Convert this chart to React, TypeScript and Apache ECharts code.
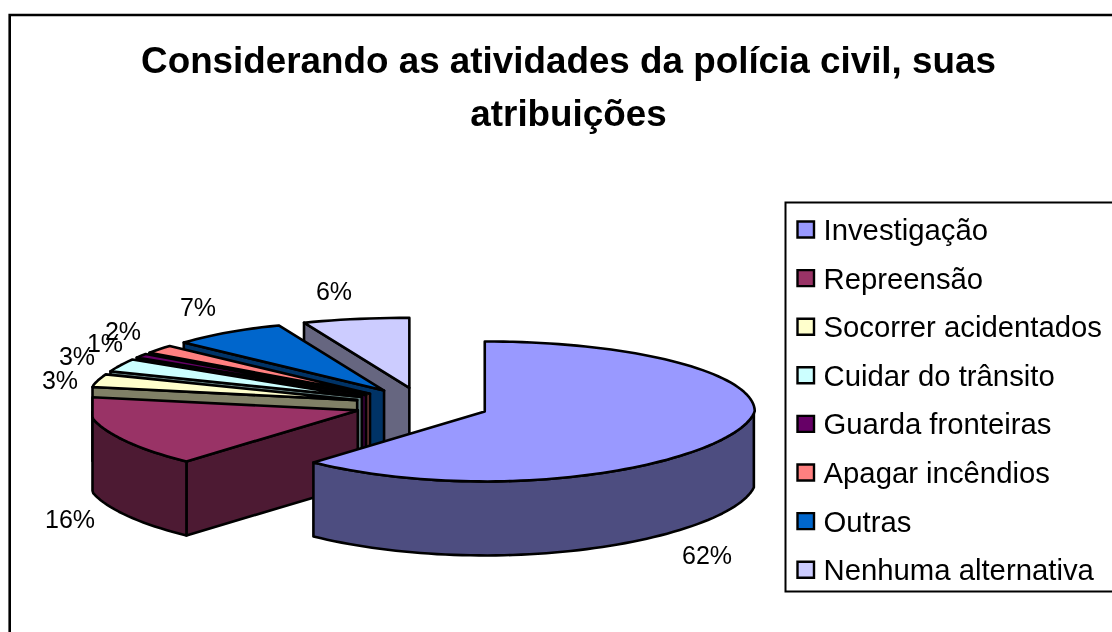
import React, { useEffect, useRef } from "react";
import * as echarts from "echarts";

const titleLines = ["Considerando as atividades da polícia civil, suas", "atribuições"];
const categories = ["Investigação", "Repreensão", "Socorrer acidentados", "Cuidar do trânsito", "Guarda fronteiras", "Apagar incêndios", "Outras", "Nenhuma alternativa"];
const percents = [62, 16, 3, 3, 1, 2, 7, 6];
const topColors = ["#9999FF", "#993366", "#FFFFCC", "#CCFFFF", "#660066", "#FF8080", "#0066CC", "#CCCCFF"];
const sideColors = ["#4D4D80", "#4D1A33", "#808066", "#668080", "#330033", "#804040", "#003366", "#666680"];
const labelCenters = [[707, 555], [70, 519], [60, 380], [77, 356], [105, 343], [123, 331], [198, 307], [334, 291]];

const CX = 422, CY = 405, RX = 270, RY = 70, DEPTH = 74, EXPLODE = 67.5, LEFT_LIMIT = 92.5;
const total = percents.reduce((a, b) => a + b, 0);

function rimPoint(ax: number, ay: number, deg: number, dy = 0): number[] {
  const t = (deg * Math.PI) / 180;
  const s = Math.sin(t);
  const c = Math.cos(t);
  const squeeze = 1 - 0.1 * Math.max(0, -c);
  const widen = s < 0 ? 1 + 0.08 * Math.pow(Math.max(0, c), 4) : 1;
  return [Math.max(LEFT_LIMIT, ax + RX * s * squeeze * widen), ay - RY * c + dy];
}

function renderSlice(_: any, api: any) {
  const i = api.value(0) as number;
  let before = 0;
  for (let k = 0; k < i; k++) before += percents[k];
  const a = (before / total) * 360;
  const b = ((before + percents[i]) / total) * 360;
  const mid = ((a + b) / 2) * Math.PI / 180;
  const ax = CX + EXPLODE * Math.sin(mid);
  const ay = CY - (EXPLODE * RY / RX) * Math.cos(mid);
  const line = { stroke: "#000", lineWidth: 2.6, lineJoin: "round" };
  const kids: any[] = [];
  const side = (points: number[][]) => kids.push({ type: "polygon", shape: { points }, style: { fill: sideColors[i], ...line } });
  const steps = Math.max(2, Math.ceil((b - a) / 2));
  const arc: number[][] = [];
  for (let s = 0; s <= steps; s++) arc.push(rimPoint(ax, ay, a + ((b - a) * s) / steps));
  if (a > 180) {
    const p = arc[0];
    side([[ax, ay], p, [p[0], p[1] + DEPTH], [ax, ay + DEPTH]]);
  }
  const front = arc.filter((_p, s) => {
    const d = a + ((b - a) * s) / steps;
    return d >= 90 && d <= 270;
  });
  if (front.length > 1) {
    side([...front, ...front.slice().reverse().map((p) => [p[0], p[1] + DEPTH])]);
  }
  kids.push({ type: "polygon", shape: { points: [[ax, ay], ...arc] }, style: { fill: topColors[i], ...line } });
  return { type: "group", children: kids };
}

export default function App() {
  const ref = useRef<HTMLDivElement>(null);
  useEffect(() => {
    const chart = echarts.init(ref.current!, undefined, { renderer: "svg" });
    const font = "Liberation Sans";
    const order = percents.map((_, i) => [i]).reverse();
    const legendTop = 229.5, legendStep = 48.6;
    chart.setOption({
      animation: false,
      series: [{ type: "custom", coordinateSystem: "none", renderItem: renderSlice, data: order, silent: true }],
      graphic: [
        { type: "rect", z: -1, shape: { x: 9.7, y: 15, width: 1130, height: 650 }, style: { fill: "#fff", stroke: "#000", lineWidth: 2.6 } },
        ...titleLines.map((t, i) => ({
          type: "text", x: 568.5, y: 60 + i * 53,
          style: { text: t, font: `bold 36.8px "${font}"`, fill: "#000", align: "center", verticalAlign: "middle" },
        })),
        ...percents.map((v, i) => ({
          type: "text", z: 10, x: labelCenters[i][0], y: labelCenters[i][1],
          style: { text: `${v}%`, font: `25px "${font}"`, fill: "#000", align: "center", verticalAlign: "middle" },
        })),
        { type: "rect", z: 5, shape: { x: 785.5, y: 202.5, width: 340, height: 389 }, style: { fill: "#fff", stroke: "#000", lineWidth: 2 } },
        ...categories.flatMap((c, i) => [
          { type: "rect", z: 6, shape: { x: 797.5, y: legendTop - 8 + i * legendStep, width: 16.5, height: 16 }, style: { fill: topColors[i], stroke: "#000", lineWidth: 2.4 } },
          { type: "text", z: 6, x: 823.5, y: legendTop + i * legendStep, style: { text: c, font: `29.3px "${font}"`, fill: "#000", align: "left", verticalAlign: "middle" } },
        ]),
      ],
    });
    return () => chart.dispose();
  }, []);
  return <div ref={ref} style={{ position: "fixed", left: 0, top: 0, width: 1112, height: 632 }} />;
}
